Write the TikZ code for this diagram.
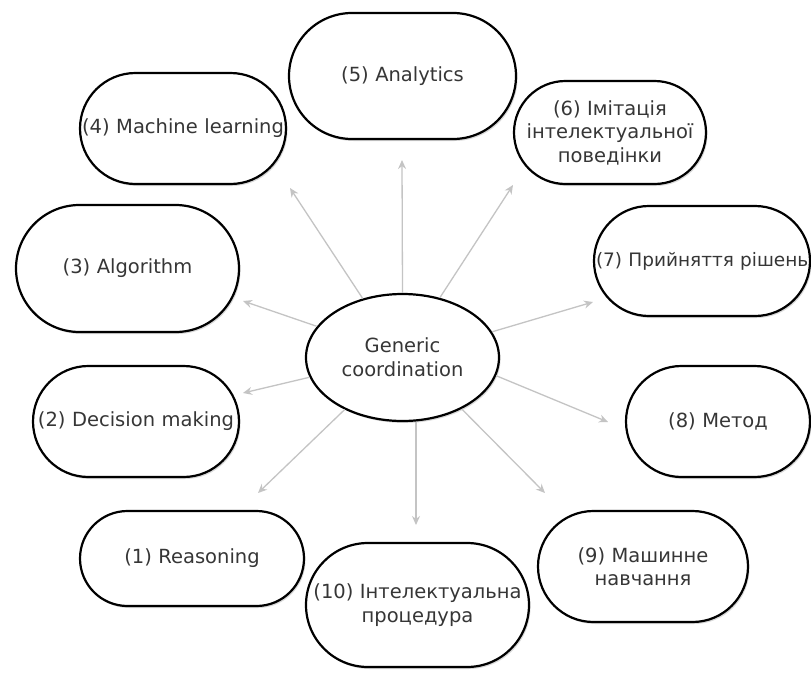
\documentclass[tikz,border=0pt]{standalone}
\usepackage{fontspec}
\setmainfont{DejaVu Sans}
\usetikzlibrary{shadows,arrows.meta,shapes.geometric}
\definecolor{txtc}{HTML}{363636}
\definecolor{arrc}{HTML}{C4C4C4}
\begin{document}
\begin{tikzpicture}[x=1pt,y=-1pt,
  pill/.style={draw=black, line width=2.2pt, fill=white, rectangle, inner sep=2pt,
    align=center, text=txtc, font=\fontsize{19.5}{23.5}\selectfont,
    drop shadow={shadow xshift=1.5pt, shadow yshift=-2pt, opacity=0.3}},
  hub/.style={draw=black, line width=2.2pt, fill=white, ellipse, inner sep=0pt,
    align=center, text=txtc, font=\fontsize{19.5}{24}\selectfont,
    drop shadow={shadow xshift=1.5pt, shadow yshift=-2pt, opacity=0.3}},
  conn/.style={draw=arrc, line width=1.3pt, -{Stealth[length=9pt,width=8pt]}}]
\useasboundingbox (0,0) rectangle (811,672);
\clip (0,0) rectangle (811,672);
\fill[white] (0,0) rectangle (811,672);

\node[pill, text width=220pt, minimum height=95pt, rounded corners=47.5pt] (n1) at (192,558.5) {(1) Reasoning};
\node[pill, text width=202pt, minimum height=111pt, rounded corners=55.5pt] (n2) at (136,421.5) {(2) Decision making};
\node[pill, text width=219pt, minimum height=127pt, rounded corners=63.5pt] (n3) at (127.5,268.5) {(3) Algorithm};
\node[pill, text width=202pt, minimum height=111pt, rounded corners=55.5pt] (n4) at (183,128.5) {(4) Machine learning};
\node[pill, text width=223pt, minimum height=126pt, rounded corners=63pt] (n5) at (402.5,76) {(5) Analytics};
\node[pill, text width=188pt, minimum height=103pt, rounded corners=51.5pt] (n6) at (610,132.5) {(6) Імітація\\інтелектуальної\\поведінки};
\node[pill, text width=212pt, minimum height=110pt, rounded corners=55pt, font=\fontsize{18.5}{23.5}\selectfont] (n7) at (702,261) {\mbox{(7) Прийняття рішень}};
\node[pill, text width=180pt, minimum height=111pt, rounded corners=55.5pt] (n8) at (718,421.5) {(8) Метод};
\node[pill, text width=206pt, minimum height=111pt, rounded corners=55.5pt] (n9) at (643,566.5) {(9) Машинне\\навчання};
\node[pill, text width=219pt, minimum height=124pt, rounded corners=62pt] (n10) at (417.5,605) {(10) Інтелектуальна\\процедура};

\node[hub, minimum width=193pt, minimum height=127pt] (gc) at (402.5,357.5) {Generic\\coordination};

\coordinate (t1) at (258,493);
\coordinate (t2) at (243,393);
\coordinate (t3) at (243,301);
\coordinate (t4) at (290,188);
\coordinate (t5) at (402,160);
\coordinate (t6) at (513,185);
\coordinate (t7) at (593,302);
\coordinate (t8) at (608,422);
\coordinate (t9) at (545,493);
\coordinate (t10) at (416,525);

\draw[conn] (gc.222) -- (t1);
\draw[conn] (gc.192) -- (t2);
\draw[conn] (gc.160) -- (t3);
\draw[conn] (gc.124) -- (t4);
\draw[conn] (gc.90) -- (t5);
\draw[conn] (gc.58) -- (t6);
\draw[conn] (gc.16) -- (t7);
\draw[conn] (gc.349) -- (t8);
\draw[conn] (gc.319) -- (t9);
\draw[conn] (gc.south -| t10) -- (t10);
\end{tikzpicture}
\end{document}
